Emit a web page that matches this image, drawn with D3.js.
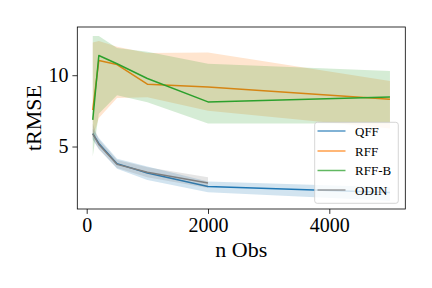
<!DOCTYPE html>
<html>
<head>
<meta charset="utf-8">
<script src="https://cdn.jsdelivr.net/npm/d3@7"></script>
<style>
  body { margin: 0; background: #fff; }
  text { font-family: "Liberation Serif", "DejaVu Serif", serif; }
</style>
</head>
<body>
<div id="chart"></div>
<script>
// n observations
const nObs = [100, 200, 500, 1000, 2000, 5000];
const nObsOdin = [100, 200, 500, 1000, 2000];

// series: mean, lower and upper band
const qffMean = [5.9, 5.22, 3.8, 3.15, 2.2, 1.77];
const qffLo = [5.5, 4.85, 3.45, 2.65, 1.8, 1.2];
const qffHi = [6.25, 5.6, 4.15, 3.6, 2.55, 2.15];

const rffMean = [7.55, 11.03, 10.75, 9.37, 9.18, 8.32];
const rffLo = [5.6, 7.0, 8.4, 8.45, 7.5, 6.27];
const rffHi = [12.3, 12.4, 12.0, 11.55, 11.6, 9.6];

const rffbMean = [6.87, 11.38, 10.8, 9.77, 8.13, 8.48];
const rffbLo = [4.3, 7.3, 8.6, 8.1, 6.62, 6.62];
const rffbHi = [12.75, 12.75, 11.9, 11.65, 10.8, 10.3];

const odinMean = [5.88, 5.15, 3.75, 3.2, 2.45];
const odinLo = [5.5, 4.8, 3.5, 2.85, 2.1];
const odinHi = [6.6, 5.5, 4.05, 3.55, 2.85];

const labels = ['QFF', 'RFF', 'RFF-B', 'ODIN'];
const colors = ['#1f77b4', '#ff7f0e', '#2ca02c', '#7f7f7f'];
const xTicks = [0, 2000, 4000];
const yTicks = [5, 10];

const w = 432, h = 288;
const axLeft = 77.3, axRight = 405.3, axTop = 27, axBottom = 209;

const svg = d3.select('#chart').append('svg')
    .attr('width', w)
    .attr('height', h);

const x = d3.scaleLinear().domain([-155, 5253]).range([axLeft, axRight]);
const y = d3.scaleLinear().domain([0.62, 13.38]).range([axBottom, axTop]);

const series = [
    { xs: nObs, mean: qffMean, lo: qffLo, hi: qffHi },
    { xs: nObs, mean: rffMean, lo: rffLo, hi: rffHi },
    { xs: nObs, mean: rffbMean, lo: rffbLo, hi: rffbHi },
    { xs: nObsOdin, mean: odinMean, lo: odinLo, hi: odinHi }
];

const plot = svg.append('g');

series.forEach((s, k) => {
    const pts = s.xs.map((v, i) => ({ x: v, m: s.mean[i], lo: s.lo[i], hi: s.hi[i] }));
    const area = d3.area()
        .x(d => x(d.x))
        .y0(d => y(d.lo))
        .y1(d => y(d.hi));
    const line = d3.line()
        .x(d => x(d.x))
        .y(d => y(d.m));
    plot.append('path')
        .attr('d', area(pts))
        .attr('fill', colors[k])
        .attr('fill-opacity', 0.2);
    plot.append('path')
        .attr('d', line(pts))
        .attr('fill', 'none')
        .attr('stroke', colors[k])
        .attr('stroke-width', 1.5)
        .attr('stroke-linejoin', 'round');
});

// axes
const xAxis = d3.axisBottom(x).tickValues(xTicks).tickSize(4.9).tickPadding(4).tickFormat(d3.format('d'));
const yAxis = d3.axisLeft(y).tickValues(yTicks).tickSize(4.9).tickPadding(4).tickFormat(d3.format('d'));

const gx = svg.append('g').attr('transform', `translate(0,${axBottom})`).call(xAxis);
const gy = svg.append('g').attr('transform', `translate(${axLeft},0)`).call(yAxis);
[gx, gy].forEach(g => {
    g.select('.domain').remove();
    g.selectAll('line').attr('stroke', '#000').attr('stroke-width', 0.8);
    g.selectAll('text').attr('font-size', 20).attr('fill', '#000')
        .style('font-family', '"Liberation Serif", serif');
});

// frame
svg.append('rect')
    .attr('x', axLeft).attr('y', axTop)
    .attr('width', axRight - axLeft).attr('height', axBottom - axTop)
    .attr('fill', 'none').attr('stroke', '#000').attr('stroke-width', 0.8);

// axis labels
svg.append('text')
    .attr('x', (axLeft + axRight) / 2).attr('y', 257)
    .attr('text-anchor', 'middle').attr('font-size', 22)
    .text('n Obs');
svg.append('text')
    .attr('transform', `translate(41,${(axTop + axBottom) / 2}) rotate(-90)`)
    .attr('text-anchor', 'middle').attr('font-size', 22)
    .text('tRMSE');

// legend
const lg = svg.append('g');
lg.append('rect')
    .attr('x', 314.7).attr('y', 122.3)
    .attr('width', 83.6).attr('height', 81)
    .attr('rx', 2.5)
    .attr('fill', '#fff').attr('fill-opacity', 0.8)
    .attr('stroke', '#cccccc').attr('stroke-width', 0.8);
const rowY = [131, 151, 170.5, 190];
labels.forEach((name, k) => {
    lg.append('line')
        .attr('x1', 317.5).attr('x2', 345.5)
        .attr('y1', rowY[k]).attr('y2', rowY[k])
        .attr('stroke', colors[k]).attr('stroke-width', 1.5)
        .attr('stroke-opacity', 0.75);
    lg.append('text')
        .attr('x', 355).attr('y', rowY[k] + 4.5)
        .attr('font-size', 13)
        .text(name);
});
</script>
</body>
</html>
